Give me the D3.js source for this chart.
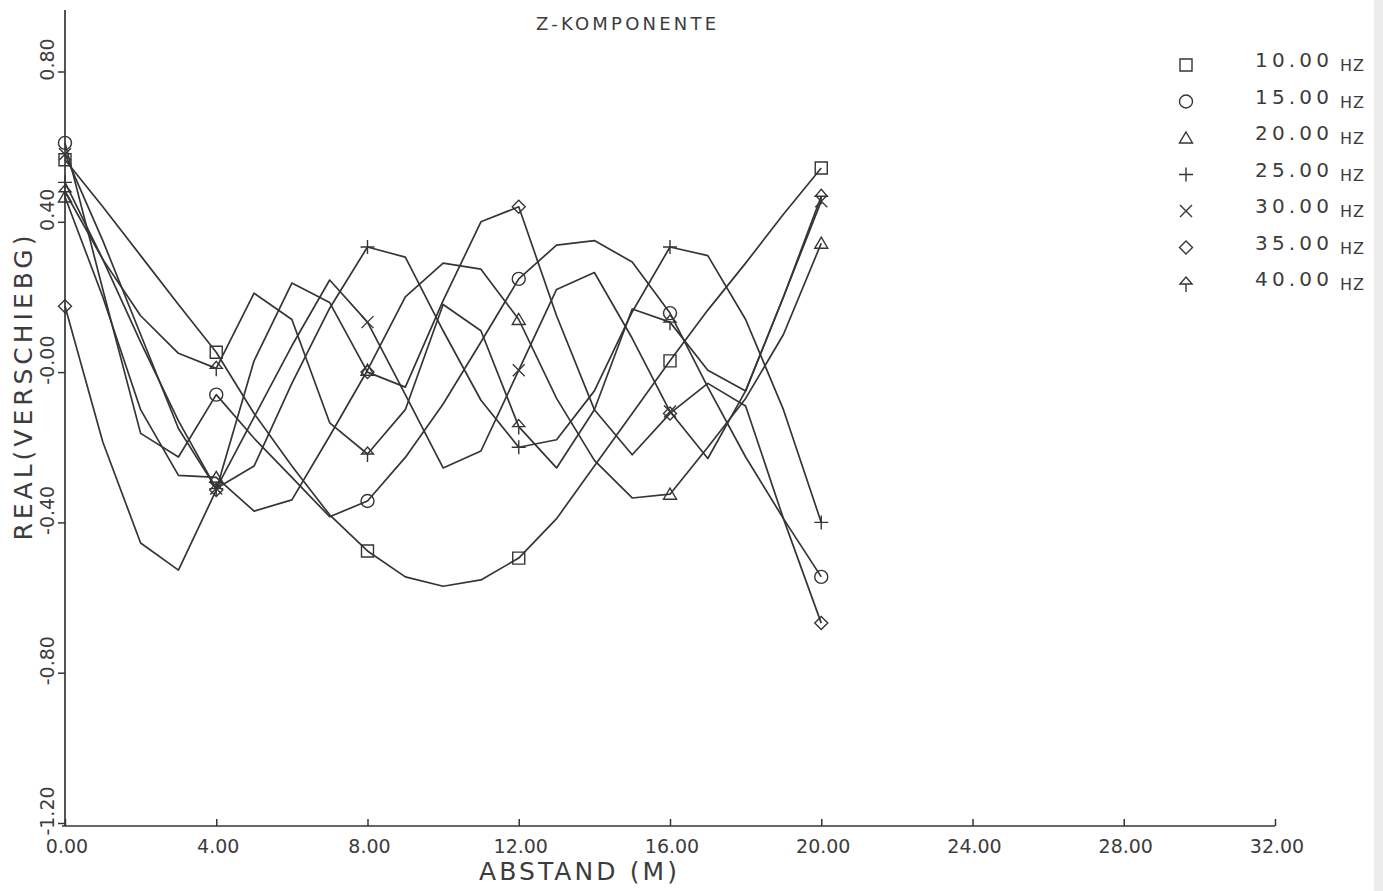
<!DOCTYPE html>
<html>
<head>
<meta charset="utf-8">
<title>Z-Komponente</title>
<style>
  body { margin: 0; background: #fff; }
  text { font-family: "DejaVu Sans", sans-serif; fill: #3c3c3c; }
</style>
</head>
<body>
<svg id="chart" width="1383" height="891"></svg>
<script src="https://d3js.org/d3.v7.min.js"></script>
<script>
// distance along the profile (m)
var abstand = [0,1,2,3,4,5,6,7,8,9,10,11,12,13,14,15,16,17,18,19,20];
var markerAt = [0,4,8,12,16,20];

// real part of the displacement, one list per frequency
var hz10 = [0.565,0.44,0.31,0.18,0.053,-0.11,-0.25,-0.38,-0.476,-0.545,-0.57,-0.553,-0.495,-0.39,-0.25,-0.11,0.03,0.165,0.29,0.42,0.543];
var hz15 = [0.61,0.22,-0.163,-0.226,-0.06,-0.176,-0.28,-0.385,-0.343,-0.227,-0.085,0.08,0.248,0.338,0.35,0.293,0.157,-0.04,-0.226,-0.39,-0.545];
var hz20 = [0.466,0.2,-0.1,-0.275,-0.28,-0.37,-0.34,-0.17,0.005,0.2,0.29,0.274,0.14,-0.07,-0.235,-0.335,-0.325,-0.2,-0.07,0.1,0.343];
var hz25 = [0.505,0.3,0.08,-0.13,-0.31,-0.25,-0.03,0.17,0.333,0.306,0.11,-0.075,-0.2,-0.18,-0.05,0.16,0.333,0.31,0.14,-0.1,-0.4];
var hz30 = [0.58,0.35,0.1,-0.15,-0.31,-0.12,0.07,0.245,0.133,-0.06,-0.255,-0.21,0.005,0.22,0.265,0.09,-0.105,-0.23,-0.05,0.2,0.455];
var hz35 = [0.175,-0.186,-0.455,-0.527,-0.314,0.03,0.237,0.185,0.0,-0.04,0.19,0.4,0.44,0.15,-0.1,-0.22,-0.11,-0.03,-0.09,-0.39,-0.668];
var hz40 = [0.48,0.3,0.15,0.05,0.01,0.21,0.14,-0.135,-0.218,-0.1,0.18,0.11,-0.145,-0.255,-0.1,0.168,0.133,0.005,-0.05,0.2,0.468];

var freqLabels = ["10.00","15.00","20.00","25.00","30.00","35.00","40.00"];
var symbols = ["square","circle","triangle","plus","cross","diamond","arrow"];
var allValues = [hz10,hz15,hz20,hz25,hz30,hz35,hz40];

var xTicks = [0,4,8,12,16,20,24,28,32];
var xTickLabels = ["0.00","4.00","8.00","12.00","16.00","20.00","24.00","28.00","32.00"];
var yTicks = [0.8,0.4,0,-0.4,-0.8,-1.2];
var yTickLabels = ["0.80","0.40","-0.00","-0.40","-0.80","-1.20"];

var ink = "#353535";
var svg = d3.select("#chart");

var x = d3.scaleLinear().domain([0,32]).range([65,1275]);
var y = d3.scaleLinear().domain([-1.2,0.8]).range([823,71.5]);

var shapes = {
  square: "M-6,-6H6V6H-6Z",
  circle: "M6.5,0A6.5,6.5 0 1,1 -6.5,0A6.5,6.5 0 1,1 6.5,0Z",
  triangle: "M0,-6L6.5,5H-6.5Z",
  plus: "M-7,0H7M0,-7V7",
  cross: "M-6,-6L6,6M-6,6L6,-6",
  diamond: "M0,-6.5L6.5,0L0,6.5L-6.5,0Z",
  arrow: "M0,-7L6,0H-6ZM0,0V8"
};

// scanned paper edge
svg.append("rect").attr("x",1374).attr("y",0).attr("width",9).attr("height",891)
  .attr("fill","#ececec");

// axes
var yAxis = d3.axisLeft(y).tickValues(yTicks).tickSize(7).tickFormat("");
svg.append("g").attr("transform","translate(65,0)").call(yAxis)
  .call(function(g){ g.select(".domain").remove(); })
  .selectAll("line").attr("stroke",ink).attr("stroke-width",1.5);
svg.append("line").attr("x1",65).attr("x2",65).attr("y1",10).attr("y2",826)
  .attr("stroke",ink).attr("stroke-width",1.7);

var xAxis = d3.axisTop(x).tickValues(xTicks).tickSize(7).tickFormat("");
svg.append("g").attr("transform","translate(0,826)").call(xAxis)
  .call(function(g){ g.select(".domain").remove(); })
  .selectAll("line").attr("stroke",ink).attr("stroke-width",1.5);
svg.append("line").attr("x1",62).attr("x2",1275).attr("y1",826).attr("y2",826)
  .attr("stroke",ink).attr("stroke-width",1.7);

svg.selectAll(".xlab").data(xTicks).enter().append("text")
  .attr("class","xlab")
  .attr("x",function(d){ return x(d) + 2; })
  .attr("y",853)
  .attr("text-anchor","middle")
  .attr("font-size",19)
  .text(function(d,i){ return xTickLabels[i]; });

svg.selectAll(".ylab").data(yTicks).enter().append("text")
  .attr("class","ylab")
  .attr("transform",function(d){ return "translate(54," + (y(d) - 12) + ") rotate(-90)"; })
  .attr("text-anchor","middle")
  .attr("font-size",19)
  .text(function(d,i){ return yTickLabels[i]; });

svg.append("text")
  .attr("transform","translate(32,388) rotate(-90)")
  .attr("text-anchor","middle")
  .attr("font-size",25)
  .attr("textLength",305)
  .text("REAL(VERSCHIEBG)");

svg.append("text")
  .attr("x",578).attr("y",880)
  .attr("text-anchor","middle")
  .attr("font-size",25)
  .attr("textLength",198)
  .text("ABSTAND (M)");

svg.append("text")
  .attr("x",626).attr("y",30)
  .attr("text-anchor","middle")
  .attr("font-size",18)
  .attr("textLength",180)
  .text("Z-KOMPONENTE");

// curves
var line = d3.line()
  .x(function(d){ return x(d[0]); })
  .y(function(d){ return y(d[1]); });

allValues.forEach(function(vals, s){
  var pts = abstand.map(function(a,i){ return [a, vals[i]]; });
  svg.append("path")
    .attr("d", line(pts))
    .attr("fill","none")
    .attr("stroke",ink)
    .attr("stroke-width",1.7)
    .attr("stroke-linejoin","round");
  svg.selectAll(".m" + s)
    .data(pts.filter(function(p){ return markerAt.indexOf(p[0]) >= 0; }))
    .enter().append("path")
    .attr("class","m" + s)
    .attr("transform",function(p){ return "translate(" + x(p[0]) + "," + y(p[1]) + ")"; })
    .attr("d", shapes[symbols[s]])
    .attr("fill","none")
    .attr("stroke",ink)
    .attr("stroke-width",1.4);
});

// legend
var legend = svg.selectAll(".leg").data(freqLabels).enter().append("g")
  .attr("class","leg")
  .attr("transform",function(d,i){ return "translate(1186," + (65 + i*36.5) + ")"; });
legend.append("path")
  .attr("d",function(d,i){ return shapes[symbols[i]]; })
  .attr("fill","none").attr("stroke",ink).attr("stroke-width",1.4);
legend.append("text")
  .attr("x",69).attr("y",2)
  .attr("font-size",20)
  .attr("textLength",74)
  .text(function(d){ return d; });
legend.append("text")
  .attr("x",154).attr("y",6)
  .attr("font-size",16)
  .attr("textLength",24)
  .text("HZ");
</script>
</body>
</html>
